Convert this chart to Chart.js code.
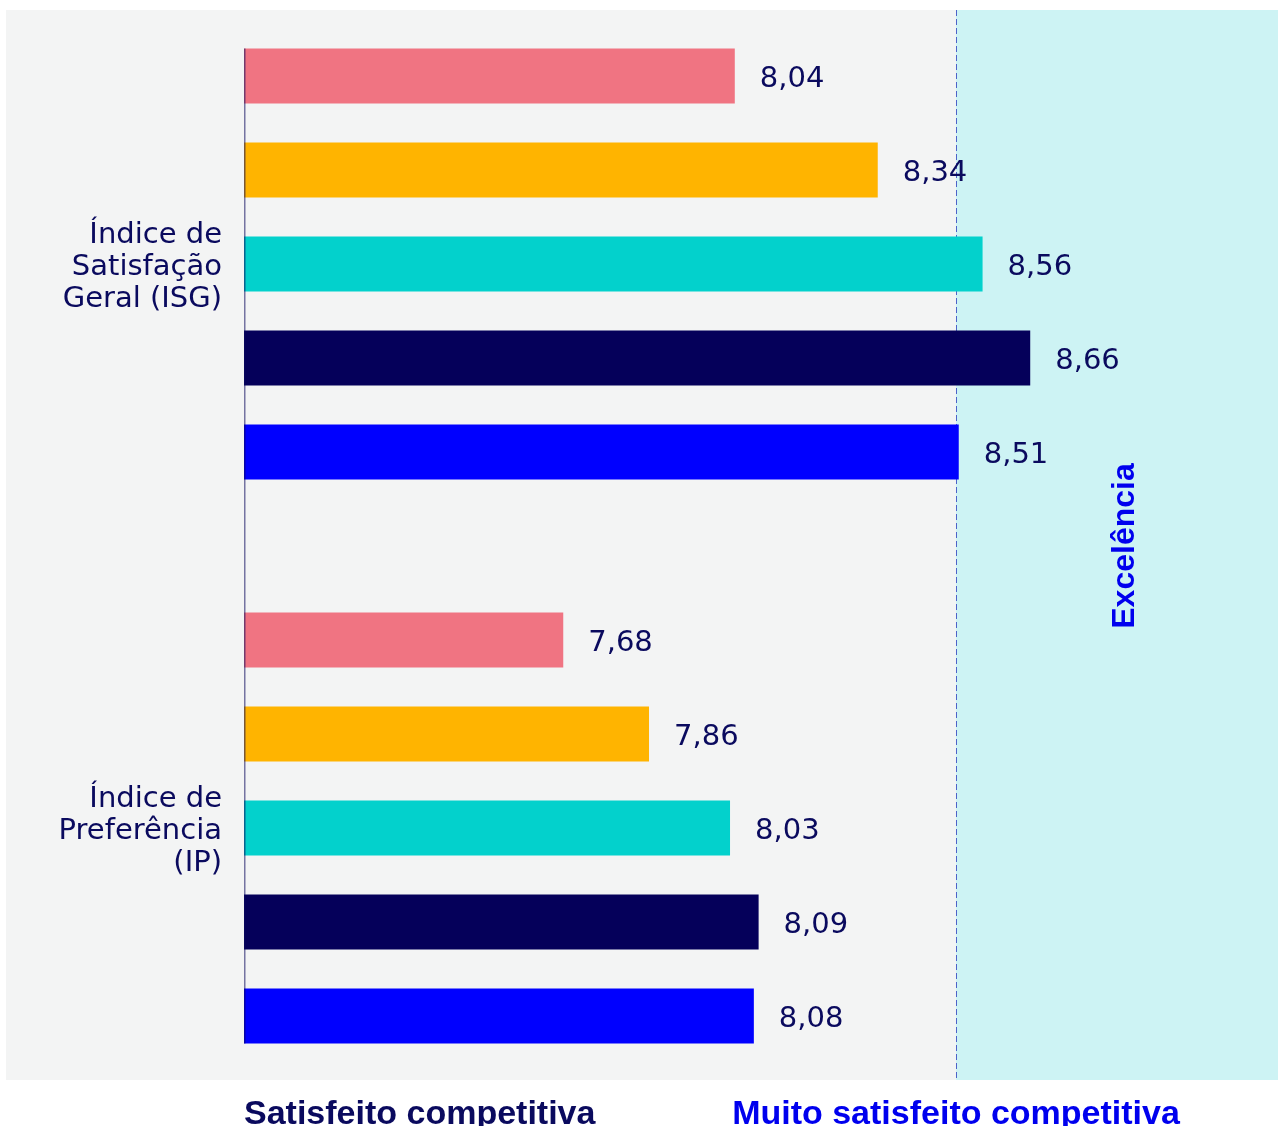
<!DOCTYPE html>
<html>
<head>
<meta charset="utf-8">
<title>Índices</title>
<script src="https://cdn.jsdelivr.net/npm/chart.js@4.4.1/dist/chart.umd.min.js"></script>
<style>
  html, body { margin: 0; padding: 0; background: #ffffff; }
  #wrap { position: relative; width: 1278px; height: 1126px; }
</style>
</head>
<body>
<div id="wrap"><canvas id="chart"></canvas></div>
<script>
// data
const categories = [
  ["Índice de", "Satisfação", "Geral (ISG)"],
  ["Índice de", "Preferência", "(IP)"]
];
const seriesNames = ["Série 1", "Série 2", "Série 3", "Série 4", "Série 5"];
const serie1 = [8.04, 7.68];
const serie2 = [8.34, 7.86];
const serie3 = [8.56, 8.03];
const serie4 = [8.66, 8.09];
const serie5 = [8.51, 8.08];
const seriesColors = ["#f07482", "#ffb400", "#03d1cc", "#05005a", "#0000ff"];
const xMin = 7.01;
const xMax = 9.18;
const threshold = 8.5;
const zoneLabels = ["Satisfeito competitiva", "Muito satisfeito competitiva"];
const bandLabel = "Excelência";

const NAVY = "#0a0a5e";
const BLUE = "#0000ee";

const fmt = v => v.toFixed(2).replace(".", ",");

// backgrounds, threshold line, zone captions
const backdrop = {
  id: "backdrop",
  beforeDraw(chart) {
    const { ctx, scales: { x }, chartArea } = chart;
    const tx = Math.round(x.getPixelForValue(threshold)) + 2;
    const top = 10, bottom = 1080;
    ctx.save();
    ctx.fillStyle = "#f3f4f4";
    ctx.fillRect(6, top, tx - 6, bottom - top);
    ctx.fillStyle = "#cdf3f4";
    ctx.fillRect(tx, top, chart.width - tx, bottom - top);
    ctx.strokeStyle = "#4d62c9";
    ctx.lineWidth = 1;
    ctx.setLineDash([6, 3]);
    ctx.beginPath();
    ctx.moveTo(tx + 0.5, top);
    ctx.lineTo(tx + 0.5, bottom);
    ctx.stroke();
    ctx.setLineDash([]);

    // zone captions under the chart
    ctx.font = "bold 34px 'Liberation Sans', Arial, sans-serif";
    ctx.textBaseline = "alphabetic";
    ctx.fillStyle = NAVY;
    ctx.textAlign = "left";
    ctx.fillText(zoneLabels[0], chartArea.left, 1124);
    ctx.fillStyle = BLUE;
    ctx.textAlign = "center";
    ctx.fillText(zoneLabels[1], tx, 1124);

    // rotated band label
    ctx.translate((tx + chart.width) / 2 + 8, (chartArea.top + chartArea.bottom) / 2);
    ctx.rotate(-Math.PI / 2);
    ctx.font = "bold 32px 'Liberation Sans', Arial, sans-serif";
    ctx.textAlign = "center";
    ctx.textBaseline = "middle";
    ctx.fillText(bandLabel, 0, 0);
    ctx.restore();
  }
};

// axis line over the bars + value labels
const barLabels = {
  id: "barLabels",
  afterDatasetsDraw(chart) {
    const { ctx, chartArea } = chart;
    const first = chart.getDatasetMeta(0).data[0];
    const last = chart.getDatasetMeta(chart.data.datasets.length - 1).data.slice(-1)[0];
    ctx.save();
    ctx.strokeStyle = "rgba(11, 10, 92, 0.55)";
    ctx.lineWidth = 1.5;
    ctx.beginPath();
    ctx.moveTo(chartArea.left + 0.75, first.y - first.height / 2);
    ctx.lineTo(chartArea.left + 0.75, last.y + last.height / 2);
    ctx.stroke();

    ctx.font = "29px 'DejaVu Sans', sans-serif";
    ctx.fillStyle = NAVY;
    ctx.textAlign = "left";
    ctx.textBaseline = "middle";
    chart.data.datasets.forEach((ds, i) => {
      chart.getDatasetMeta(i).data.forEach((bar, j) => {
        ctx.fillText(fmt(ds.data[j]), bar.x + 25, bar.y + 3);
      });
    });
    ctx.restore();
  }
};

const allSeries = [serie1, serie2, serie3, serie4, serie5];

new Chart(document.getElementById("chart"), {
  type: "bar",
  data: {
    labels: categories,
    datasets: allSeries.map((vals, i) => ({
      label: seriesNames[i],
      data: vals,
      base: xMin,
      backgroundColor: seriesColors[i],
      borderWidth: 0,
      categoryPercentage: 470 / 564,
      barPercentage: 55 / 94,
      clip: false
    }))
  },
  options: {
    indexAxis: "y",
    responsive: true,
    maintainAspectRatio: false,
    animation: false,
    devicePixelRatio: 1,
    layout: { padding: { top: 264, bottom: 298, left: 0, right: 0 } },
    plugins: {
      legend: { display: false },
      tooltip: { enabled: false }
    },
    scales: {
      x: {
        display: false,
        min: xMin,
        max: xMax
      },
      y: {
        offset: false,
        grid: { display: false, drawTicks: false },
        border: { display: false },
        ticks: {
          padding: 22,
          labelOffset: 3,
          color: NAVY,
          font: { family: "'DejaVu Sans', sans-serif", size: 29, lineHeight: 32 / 29 }
        },
        afterFit(scale) { scale.width = 244; }
      }
    }
  },
  plugins: [backdrop, barLabels]
});
</script>
</body>
</html>
